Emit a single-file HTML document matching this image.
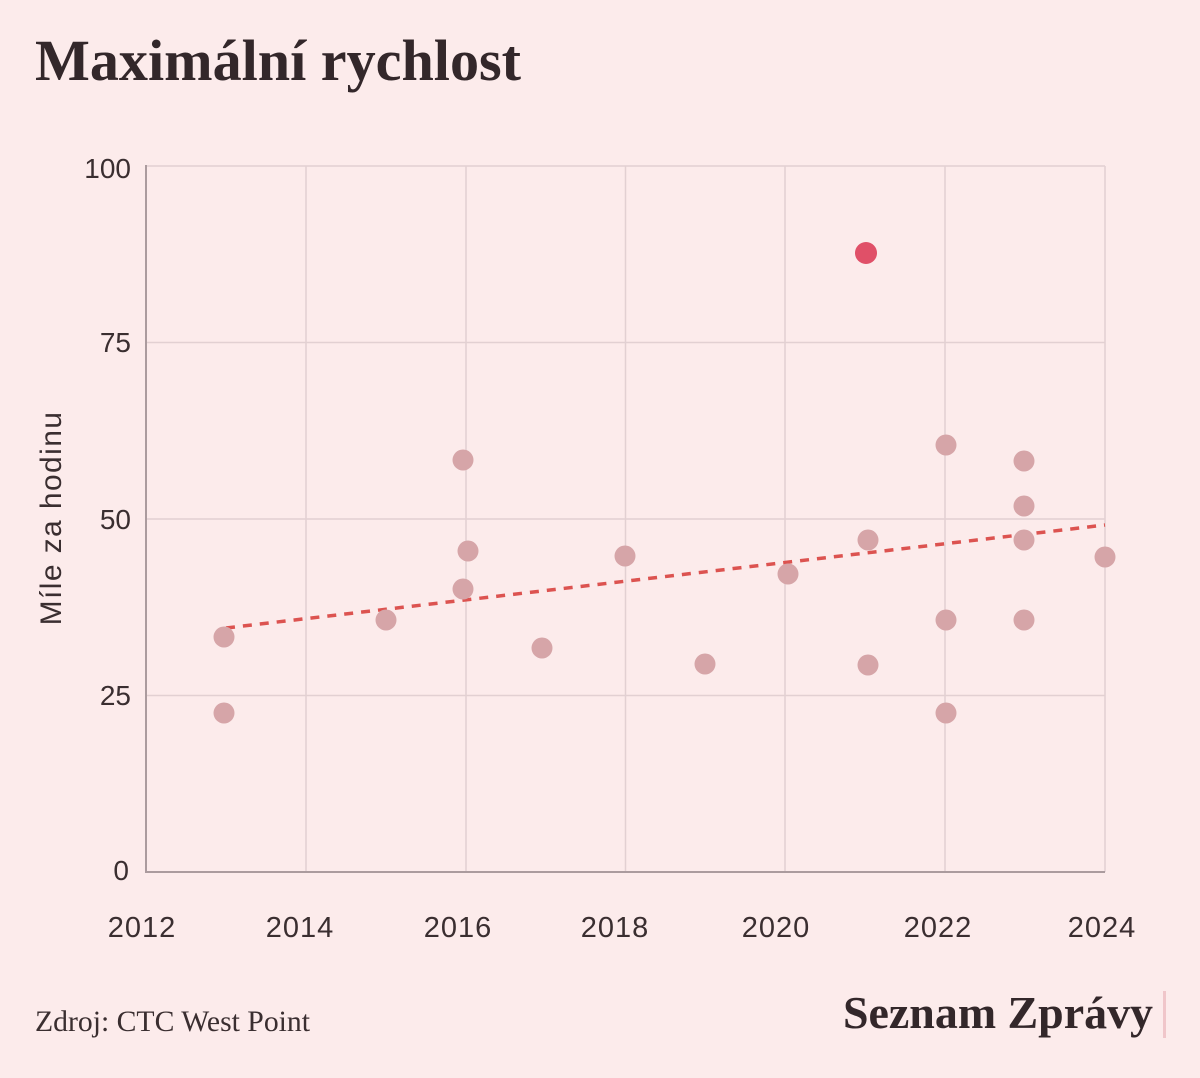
<!DOCTYPE html>
<html>
<head>
<meta charset="utf-8">
<style>
  html,body{margin:0;padding:0;background:#fcebeb;}
  body{width:1200px;height:1078px;overflow:hidden;}
  svg{display:block;}
</style>
</head>
<body>
<svg width="1200" height="1078" viewBox="0 0 1200 1078" xmlns="http://www.w3.org/2000/svg">
  <rect x="0" y="0" width="1200" height="1078" fill="#fcebeb"/>
  <!-- Title -->
  <text x="35" y="80" font-family="Liberation Serif, serif" font-weight="bold" font-size="58" fill="#33272a" textLength="486" lengthAdjust="spacingAndGlyphs">Maximální rychlost</text>

  <!-- gridlines -->
  <g stroke="#e2d0d2" stroke-width="1.5" fill="none">
    <line x1="146" y1="166" x2="1105" y2="166"/>
    <line x1="146" y1="342.5" x2="1105" y2="342.5"/>
    <line x1="146" y1="519" x2="1105" y2="519"/>
    <line x1="146" y1="695.5" x2="1105" y2="695.5"/>
    <line x1="306" y1="166" x2="306" y2="872"/>
    <line x1="466" y1="166" x2="466" y2="872"/>
    <line x1="625.5" y1="166" x2="625.5" y2="872"/>
    <line x1="785" y1="166" x2="785" y2="872"/>
    <line x1="945" y1="166" x2="945" y2="872"/>
    <line x1="1105" y1="166" x2="1105" y2="872"/>
  </g>
  <!-- axes -->
  <g stroke="#ab9b9e" stroke-width="2" fill="none">
    <line x1="146" y1="165" x2="146" y2="873"/>
    <line x1="145" y1="872" x2="1105" y2="872"/>
  </g>

  <!-- y ticks -->
  <g font-family="Liberation Sans, sans-serif" font-size="28" fill="#3a2e30" text-anchor="end">
    <text x="131" y="178">100</text>
    <text x="131" y="352">75</text>
    <text x="131" y="529">50</text>
    <text x="131" y="705">25</text>
    <text x="129" y="880">0</text>
  </g>
  <!-- x ticks -->
  <g font-family="Liberation Sans, sans-serif" font-size="29" fill="#3a2e30" text-anchor="middle" letter-spacing="1">
    <text x="142" y="937">2012</text>
    <text x="300" y="937">2014</text>
    <text x="458" y="937">2016</text>
    <text x="615" y="937">2018</text>
    <text x="776" y="937">2020</text>
    <text x="938" y="937">2022</text>
    <text x="1102" y="937">2024</text>
  </g>
  <!-- y axis title -->
  <text transform="translate(61,518) rotate(-90)" font-family="Liberation Sans, sans-serif" font-size="30" letter-spacing="1.4" fill="#3a2e30" text-anchor="middle">Míle za hodinu</text>

  <!-- trend line -->
  <line x1="226" y1="628" x2="1105" y2="525" stroke="#dc5350" stroke-width="3.5" stroke-dasharray="9,8"/>

  <!-- points -->
  <g fill="#d6a5a8">
    <circle cx="224" cy="637" r="10.5"/>
    <circle cx="224" cy="713" r="10.5"/>
    <circle cx="386" cy="620" r="10.5"/>
    <circle cx="463" cy="460" r="10.5"/>
    <circle cx="468" cy="551" r="10.5"/>
    <circle cx="463" cy="589" r="10.5"/>
    <circle cx="542" cy="648" r="10.5"/>
    <circle cx="625" cy="556" r="10.5"/>
    <circle cx="705" cy="664" r="10.5"/>
    <circle cx="788" cy="574" r="10.5"/>
    <circle cx="868" cy="540" r="10.5"/>
    <circle cx="868" cy="665" r="10.5"/>
    <circle cx="946" cy="445" r="10.5"/>
    <circle cx="946" cy="620" r="10.5"/>
    <circle cx="946" cy="713" r="10.5"/>
    <circle cx="1024" cy="461" r="10.5"/>
    <circle cx="1024" cy="506" r="10.5"/>
    <circle cx="1024" cy="540" r="10.5"/>
    <circle cx="1024" cy="620" r="10.5"/>
    <circle cx="1105" cy="557" r="10.5"/>
  </g>
  <circle cx="866" cy="253" r="11" fill="#e05068"/>

  <!-- footer -->
  <text x="35" y="1031" font-family="Liberation Serif, serif" font-size="29.5" fill="#3a2e30" textLength="275" lengthAdjust="spacingAndGlyphs">Zdroj: CTC West Point</text>
  <text x="843" y="1028" font-family="Liberation Serif, serif" font-weight="bold" font-size="46" fill="#33272a" textLength="310" lengthAdjust="spacingAndGlyphs">Seznam Zprávy</text>
  <rect x="1163" y="991" width="3" height="47" fill="#f0c6ca"/>
</svg>
</body>
</html>
